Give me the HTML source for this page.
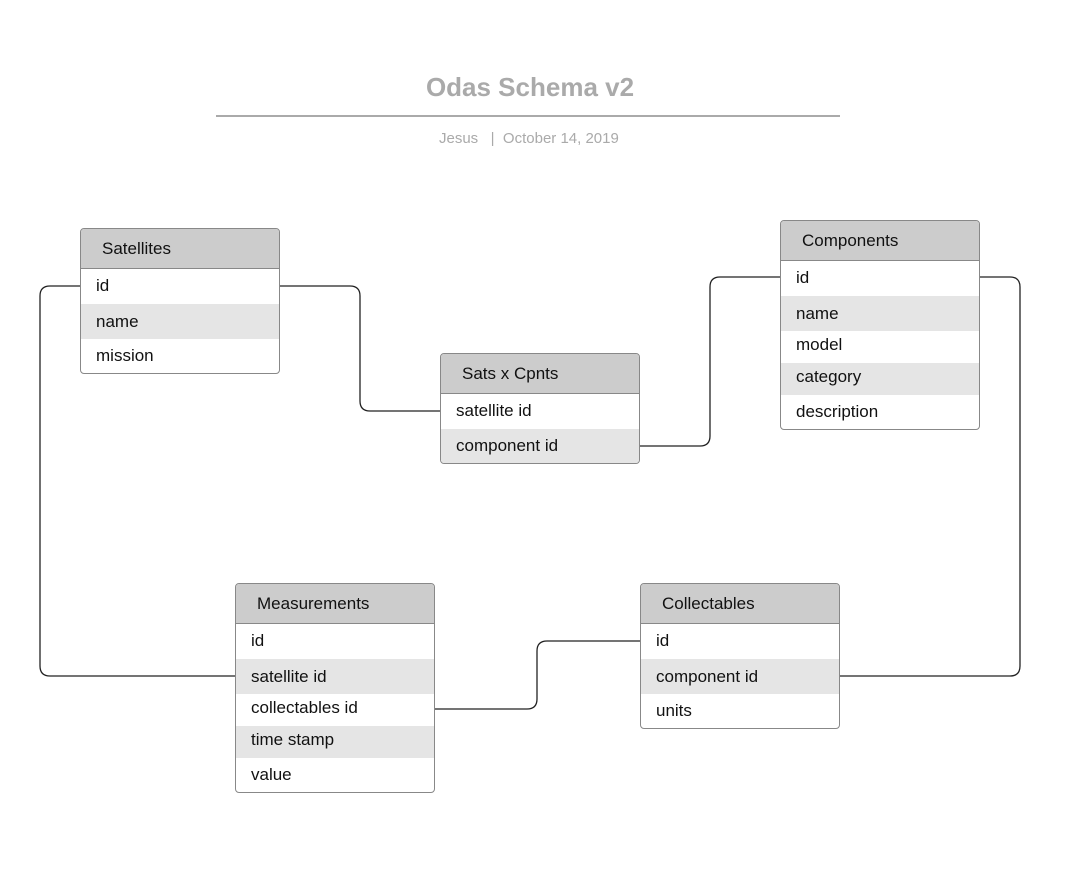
<!DOCTYPE html>
<html><head><meta charset="utf-8"><style>
body{margin:0;width:1080px;height:873px;background:#fff;position:relative;font-family:"Liberation Sans",sans-serif;overflow:hidden}
.t{position:absolute;width:198px;border:1px solid #888;border-radius:4px;overflow:hidden;background:#fff}
.h{height:39px;background:#ccc;border-bottom:1px solid #888;font-size:17px;line-height:39px;padding-left:21px;color:#111}
.r{font-size:17px;padding-left:15px;color:#111;box-sizing:border-box}
.g{background:#e5e5e5}
</style></head><body>
<div style="position:absolute;left:0;width:1060px;top:72px;text-align:center;font-size:26px;font-weight:bold;color:#aaa">Odas Schema v2</div>
<div style="position:absolute;left:216px;width:624px;top:115px;height:2px;background:#aaa"></div>
<div style="position:absolute;left:439px;top:130px;font-size:15px;color:#aaa;white-space:pre">Jesus   |  October 14, 2019</div>
<svg width="1080" height="873" style="position:absolute;left:0;top:0" fill="none" stroke="#222" stroke-width="1.3">
<path d="M280 286 H350 Q360 286 360 296 V401 Q360 411 370 411 H440"/>
<path d="M780 277 H720 Q710 277 710 287 V436 Q710 446 700 446 H640"/>
<path d="M80 286 H50 Q40 286 40 296 V666 Q40 676 50 676 H235"/>
<path d="M980 277 H1010 Q1020 277 1020 287 V666 Q1020 676 1010 676 H840"/>
<path d="M435 709 H527 Q537 709 537 699 V651 Q537 641 547 641 H640"/>
</svg>
<div class="t" style="left:80px;top:228px"><div class="h">Satellites</div>
<div class="r" style="height:35px;line-height:33px">id</div>
<div class="r g" style="height:35px;line-height:35px">name</div>
<div class="r" style="height:34px;line-height:34px">mission</div></div>
<div class="t" style="left:780px;top:220px"><div class="h">Components</div>
<div class="r" style="height:35px;line-height:33px">id</div>
<div class="r g" style="height:35px;line-height:35px">name</div>
<div class="r" style="height:32px;line-height:28px">model</div>
<div class="r g" style="height:32px;line-height:28px">category</div>
<div class="r" style="height:34px;line-height:34px">description</div></div>
<div class="t" style="left:440px;top:353px"><div class="h">Sats x Cpnts</div>
<div class="r" style="height:35px;line-height:33px">satellite id</div>
<div class="r g" style="height:34px;line-height:34px">component id</div></div>
<div class="t" style="left:235px;top:583px"><div class="h">Measurements</div>
<div class="r" style="height:35px;line-height:33px">id</div>
<div class="r g" style="height:35px;line-height:35px">satellite id</div>
<div class="r" style="height:32px;line-height:28px">collectables id</div>
<div class="r g" style="height:32px;line-height:28px">time stamp</div>
<div class="r" style="height:34px;line-height:34px">value</div></div>
<div class="t" style="left:640px;top:583px"><div class="h">Collectables</div>
<div class="r" style="height:35px;line-height:33px">id</div>
<div class="r g" style="height:35px;line-height:35px">component id</div>
<div class="r" style="height:34px;line-height:34px">units</div></div>
</body></html>
